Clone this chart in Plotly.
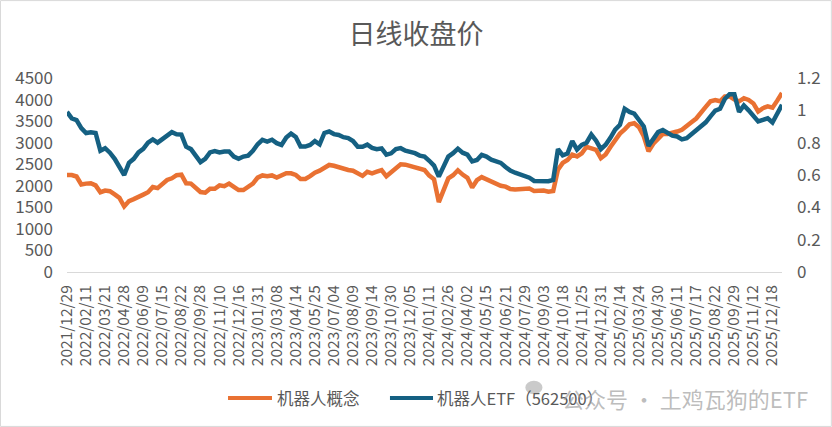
import plotly.graph_objects as go

# closing prices, one sample every 6.5 trading days
robot_concept = [
    2250, 2250, 2215, 2030, 2050, 2060, 2010, 1850, 1890, 1875,
    1800, 1720, 1520, 1645, 1690, 1755, 1795, 1850, 1970, 1945,
    2025, 2135, 2173, 2245, 2260, 2057, 2050, 1935, 1855, 1840,
    1930, 1930, 2010, 1990, 2050, 1975, 1900, 1900, 1975, 2050,
    2190, 2240, 2220, 2240, 2190, 2250, 2290, 2290, 2250, 2160,
    2160, 2225, 2305, 2350, 2430, 2483, 2465, 2430, 2390, 2367,
    2350, 2275, 2230, 2325, 2290, 2327, 2365, 2220, 2315, 2390,
    2500, 2490, 2460, 2420, 2375, 2367, 2235, 2150, 1620, 1910,
    2173, 2245, 2360, 2260, 2185, 1960, 2130, 2200, 2150, 2085,
    2045, 2000, 1980, 1925, 1915, 1925, 1930, 1935, 1880, 1880,
    1890, 1862, 1880, 2375, 2530, 2600, 2720, 2680, 2754, 2905,
    2870, 2835, 2640, 2725, 2900, 3050, 3210, 3310, 3425, 3450,
    3360, 3150, 2800, 2975, 3110, 3205, 3200, 3220, 3258, 3300,
    3400, 3475, 3560, 3680, 3830, 3960, 3990, 3960, 4070, 4072,
    4000, 3960, 4030, 3990, 3910, 3723, 3800, 3840, 3810, 3975,
    4151,
]

robot_etf = [
    0.99, 0.95, 0.94, 0.89, 0.86, 0.865, 0.86, 0.75, 0.766, 0.738,
    0.70, 0.655, 0.60, 0.675, 0.70, 0.74, 0.762, 0.80, 0.82, 0.80,
    0.82, 0.845, 0.865, 0.852, 0.85, 0.775, 0.76, 0.72, 0.68, 0.70,
    0.74, 0.748, 0.74, 0.745, 0.745, 0.714, 0.70, 0.714, 0.72, 0.75,
    0.79, 0.817, 0.807, 0.818, 0.797, 0.786, 0.832, 0.856, 0.835, 0.776,
    0.776, 0.786, 0.81, 0.79, 0.86, 0.869, 0.853, 0.848, 0.834, 0.828,
    0.81, 0.775, 0.775, 0.788, 0.768, 0.76, 0.765, 0.726, 0.734, 0.76,
    0.766, 0.75, 0.745, 0.735, 0.72, 0.714, 0.688, 0.658, 0.59, 0.645,
    0.714, 0.735, 0.763, 0.738, 0.726, 0.684, 0.693, 0.724, 0.714, 0.695,
    0.684, 0.675, 0.65, 0.627, 0.614, 0.604, 0.60, 0.583, 0.563, 0.563,
    0.565, 0.562, 0.57, 0.76, 0.722, 0.733, 0.81, 0.757, 0.786, 0.80,
    0.85, 0.812, 0.76, 0.787, 0.83, 0.88, 0.91, 1.01, 0.99, 0.98,
    0.94, 0.90, 0.78, 0.817, 0.865, 0.878, 0.858, 0.843, 0.838, 0.82,
    0.828, 0.852, 0.871, 0.896, 0.926, 0.963, 0.998, 1.01, 1.07, 1.10,
    1.10, 0.99, 1.03, 1.0, 0.965, 0.931, 0.941, 0.951, 0.925, 0.975,
    1.034,
]

# date labels shown on the axis, every 26 trading days
tick_labels = [
    '2021/12/29', '2022/02/11', '2022/03/21', '2022/04/28', '2022/06/09',
    '2022/07/15', '2022/08/22', '2022/09/28', '2022/11/10', '2022/12/16',
    '2023/01/31', '2023/03/08', '2023/04/14', '2023/05/25', '2023/07/04',
    '2023/08/09', '2023/09/14', '2023/10/30', '2023/12/05', '2024/01/11',
    '2024/02/26', '2024/04/02', '2024/05/15', '2024/06/21', '2024/07/29',
    '2024/09/03', '2024/10/18', '2024/11/25', '2024/12/31', '2025/02/14',
    '2025/03/24', '2025/04/30', '2025/06/11', '2025/07/17', '2025/08/22',
    '2025/09/29', '2025/11/12', '2025/12/18',
]

series_names = ['机器人概念', '机器人ETF（562500）']

day = [i * 6.5 for i in range(len(robot_concept))]
tick_days = [i * 26 for i in range(len(tick_labels))]

ORANGE = '#E97132'
BLUE = '#156082'
GREY = '#595959'
FONT = 'Noto Sans CJK SC'

fig = go.Figure()
fig.add_trace(go.Scatter(x=day, y=robot_concept, name=series_names[0], mode='lines',
                         line=dict(color=ORANGE, width=4.5)))
fig.add_trace(go.Scatter(x=day, y=robot_etf, name=series_names[1], mode='lines',
                         line=dict(color=BLUE, width=4.5), yaxis='y2'))

fig.update_layout(
    width=832, height=427,
    margin=dict(l=67, r=50, t=78, b=155, autoexpand=False),
    paper_bgcolor='white', plot_bgcolor='white',
    font=dict(family=FONT, color=GREY, size=16),
    title=dict(text='日线收盘价', x=0.5, xanchor='center', y=0.92, yanchor='middle',
               font=dict(size=27, color=GREY)),
    showlegend=False,
    xaxis=dict(range=[0, 975], tickmode='array', tickvals=tick_days, ticktext=tick_labels,
               tickangle=-90, tickfont=dict(size=15.5, color=GREY), showgrid=False,
               zeroline=False, showline=True, linecolor='#D9D9D9', linewidth=1,
               ticks='', ticklabelstandoff=6),
    yaxis=dict(range=[0, 4500], tickvals=list(range(0, 4501, 500)), showgrid=False,
               zeroline=False, showline=False, ticks='', tickfont=dict(size=17, color=GREY),
               ticklabelstandoff=13),
    yaxis2=dict(range=[0, 1.2], tickvals=[0, 0.2, 0.4, 0.6, 0.8, 1, 1.2],
                ticktext=['0', '0.2', '0.4', '0.6', '0.8', '1', '1.2'],
                overlaying='y', side='right', showgrid=False, zeroline=False,
                showline=False, ticks='', tickfont=dict(size=17, color=GREY),
                ticklabelstandoff=14),
)

# chart border
fig.add_shape(type='rect', xref='paper', yref='paper', x0=-0.093, x1=1.069, y0=-0.796, y1=1.399,
              line=dict(color='#D9D9D9', width=1), layer='below')

# legend drawn by hand so the line samples match the original length
legend_y = -0.6495
for (x0, x1, tx), colour, name in zip([(0.2252, 0.2867, 0.2909), (0.4517, 0.5119, 0.5147)],
                                      [ORANGE, BLUE], series_names):
    fig.add_shape(type='line', xref='paper', yref='paper', x0=x0, x1=x1, y0=legend_y, y1=legend_y,
                  line=dict(color=colour, width=4))
    fig.add_annotation(text=name, xref='paper', yref='paper', x=tx, xanchor='left',
                       y=legend_y, yanchor='middle', showarrow=False,
                       font=dict(size=16.5, color=GREY))

# watermark
fig.add_shape(type='circle', xref='paper', yref='paper', x0=0.641, x1=0.665, y0=-0.560, y1=-0.630,
              fillcolor='rgba(150,150,150,0.5)', line_width=0)
fig.add_annotation(text='公众号 · 土鸡瓦狗的ETF', xref='paper', yref='paper',
                   x=0.690, xanchor='left', y=legend_y, yanchor='middle', showarrow=False,
                   font=dict(size=22, color='rgba(160,160,160,0.7)'))

fig.write_html('out.html', config={'displayModeBar': False},
               post_script="document.body.style.margin='0px';")
